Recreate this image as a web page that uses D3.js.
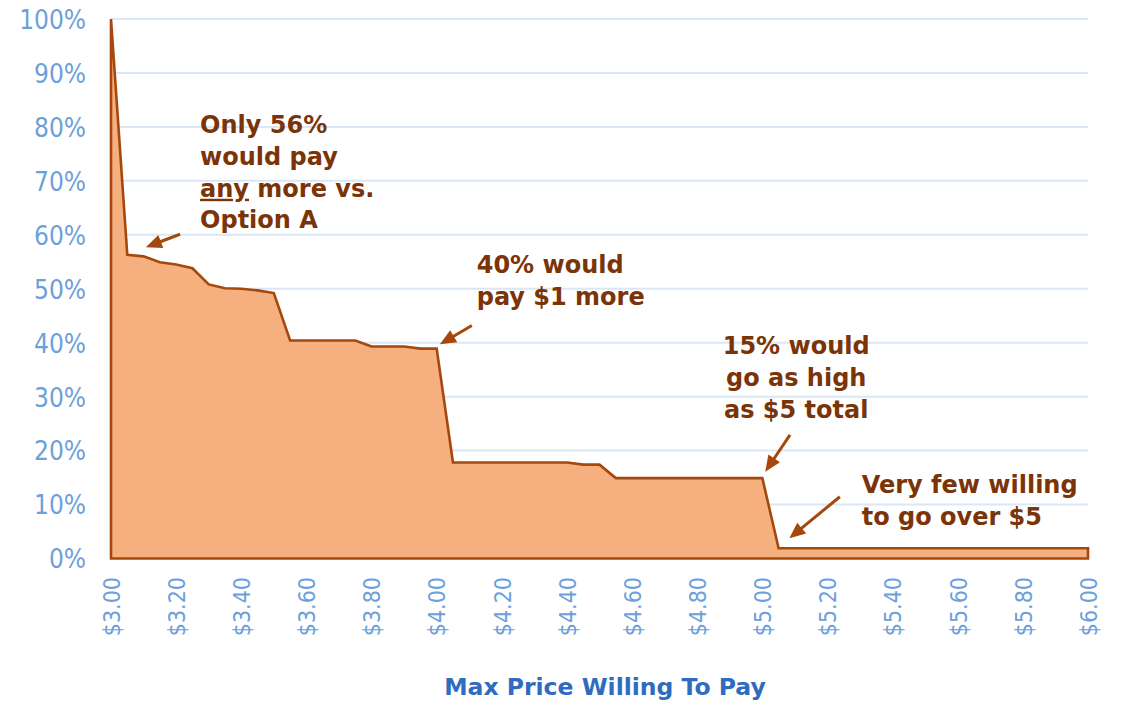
<!DOCTYPE html>
<html>
<head>
<meta charset="utf-8">
<script src="https://cdn.jsdelivr.net/npm/d3@7"></script>
<style>
  html, body { margin: 0; padding: 0; background: #ffffff; }
  svg { display: block; }
</style>
</head>
<body>
<svg id="chart" width="1122" height="703"></svg>
<script>
// ---- Data ----
const prices = [
  3.00, 3.05, 3.10, 3.15, 3.20, 3.25, 3.30, 3.35, 3.40, 3.45,
  3.50, 3.55, 3.60, 3.65, 3.70, 3.75, 3.80, 3.85, 3.90, 3.95,
  4.00, 4.05, 4.10, 4.15, 4.20, 4.25, 4.30, 4.35, 4.40, 4.45,
  4.50, 4.55, 4.60, 4.65, 4.70, 4.75, 4.80, 4.85, 4.90, 4.95,
  5.00, 5.05, 5.10, 5.15, 5.20, 5.25, 5.30, 5.35, 5.40, 5.45,
  5.50, 5.55, 5.60, 5.65, 5.70, 5.75, 5.80, 5.85, 5.90, 5.95,
  6.00
];
const shareWilling = [
  100.0, 56.3, 56.0, 54.9, 54.5, 53.8, 50.8, 50.1, 50.0, 49.7,
  49.2, 40.4, 40.4, 40.4, 40.4, 40.4, 39.3, 39.3, 39.3, 38.9,
  38.9, 17.8, 17.8, 17.8, 17.8, 17.8, 17.8, 17.8, 17.8, 17.4,
  17.4, 14.9, 14.9, 14.9, 14.9, 14.9, 14.9, 14.9, 14.9, 14.9,
  14.9, 1.9, 1.9, 1.9, 1.9, 1.9, 1.9, 1.9, 1.9, 1.9,
  1.9, 1.9, 1.9, 1.9, 1.9, 1.9, 1.9, 1.9, 1.9, 1.9,
  1.9
];
const xTickValues = [3.0, 3.2, 3.4, 3.6, 3.8, 4.0, 4.2, 4.4, 4.6, 4.8, 5.0, 5.2, 5.4, 5.6, 5.8, 6.0];
const yTickValues = [0, 10, 20, 30, 40, 50, 60, 70, 80, 90, 100];
const xAxisTitle = "Max Price Willing To Pay";

// annotations: anchor in data units (price, percent)
const notes = [
  { x: 3.2735, y: 78.8, anchor: "start", lines: [["Only 56%"], ["would pay"], [{u: "any"}, " more vs."], ["Option A"]] },
  { x: 4.123, y: 52.9, anchor: "start", lines: [["40% would"], ["pay $1 more"]] },
  { x: 5.104, y: 37.85, anchor: "middle", lines: [["15% would"], ["go as high"], ["as $5 total"]] },
  { x: 5.305, y: 12.1, anchor: "start", lines: [["Very few willing"], ["to go over $5"]] }
];
const arrows = [
  { from: [3.212, 60.1], to: [3.107, 57.7] },
  { from: [4.108, 43.2], to: [4.010, 39.7] },
  { from: [5.085, 22.9], to: [5.009, 16.1] },
  { from: [5.238, 11.45], to: [5.083, 3.74] }
];

// ---- Chart ----
const svg = d3.select("#chart");
const x = d3.scaleLinear().domain([3, 6]).range([111, 1088]);
const y = d3.scaleLinear().domain([0, 100]).range([558.5, 19]);

const tickFont = "'DejaVu Sans Condensed', 'DejaVu Sans', sans-serif";
const tickColor = "#6d9fdb";

// gridlines
svg.append("g").selectAll("line")
  .data(yTickValues.filter(d => d > 0))
  .join("line")
  .attr("x1", x(3)).attr("x2", x(6))
  .attr("y1", d => y(d)).attr("y2", d => y(d))
  .attr("stroke", "#dbe7f4").attr("stroke-width", 2);

// y axis labels
const yAxis = d3.axisLeft(y).tickValues(yTickValues).tickFormat(d => d + "%").tickSize(0).tickPadding(0);
const gy = svg.append("g").attr("transform", "translate(86,0)").call(yAxis);
gy.select(".domain").remove();
gy.selectAll("text")
  .attr("font-family", tickFont)
  .attr("font-size", 26)
  .attr("fill", tickColor)
  .attr("dy", "0.36em");

// x axis labels (rotated)
const xAxis = d3.axisBottom(x).tickValues(xTickValues).tickFormat(d => "$" + d.toFixed(2)).tickSize(0).tickPadding(0);
const gx = svg.append("g").attr("transform", "translate(0,577)").call(xAxis);
gx.select(".domain").remove();
gx.selectAll("text")
  .attr("font-family", tickFont)
  .attr("font-size", 23)
  .attr("fill", tickColor)
  .attr("transform", "rotate(-90)")
  .attr("text-anchor", "end")
  .attr("x", 0)
  .attr("y", 0)
  .attr("dy", "0.36em");

// area
const series = prices.map((p, i) => ({ p, v: shareWilling[i] }));
const area = d3.area()
  .x(d => x(d.p))
  .y0(y(0))
  .y1(d => y(d.v))
  .curve(d3.curveLinear);
svg.append("path")
  .datum(series)
  .attr("d", d => {
    // closed outline: baseline, left edge, data, right edge
    return area(d);
  })
  .attr("fill", "#f6b07f")
  .attr("stroke", "#a5480c")
  .attr("stroke-width", 2.6)
  .attr("stroke-linejoin", "miter");

// axis title
svg.append("text")
  .attr("x", 605).attr("y", 695)
  .attr("text-anchor", "middle")
  .attr("font-family", "'DejaVu Sans', sans-serif")
  .attr("font-weight", "bold")
  .attr("font-size", 23.5)
  .attr("fill", "#2f6cbf")
  .text(xAxisTitle);

// arrows
const arrowColor = "#a5480c";
arrows.forEach(a => {
  const x1 = x(a.from[0]), y1 = y(a.from[1]);
  const x2 = x(a.to[0]), y2 = y(a.to[1]);
  const ang = Math.atan2(y2 - y1, x2 - x1);
  const headLen = 16, headW = 7;
  const bx = x2 - headLen * Math.cos(ang), by = y2 - headLen * Math.sin(ang);
  svg.append("line")
    .attr("x1", x1).attr("y1", y1).attr("x2", bx + 2 * Math.cos(ang)).attr("y2", by + 2 * Math.sin(ang))
    .attr("stroke", arrowColor).attr("stroke-width", 3);
  const px = -Math.sin(ang), py = Math.cos(ang);
  svg.append("path")
    .attr("d", `M${x2},${y2} L${bx + headW * px},${by + headW * py} L${bx - headW * px},${by - headW * py} Z`)
    .attr("fill", arrowColor);
});

// annotation texts
const noteColor = "#7b3407";
const lineH = 31.7;
notes.forEach(n => {
  const t = svg.append("text")
    .attr("x", x(n.x)).attr("y", y(n.y))
    .attr("text-anchor", n.anchor)
    .attr("font-family", "'DejaVu Sans', sans-serif")
    .attr("font-weight", "bold")
    .attr("font-size", 24)
    .attr("fill", noteColor);
  n.lines.forEach((parts, i) => {
    parts.forEach((part, j) => {
      const ts = t.append("tspan");
      if (j === 0) ts.attr("x", x(n.x)).attr("dy", i === 0 ? 0 : lineH);
      if (typeof part === "object") {
        ts.text(part.u).attr("text-decoration", "underline");
      } else {
        ts.text(part);
      }
    });
  });
});
</script>
</body>
</html>
